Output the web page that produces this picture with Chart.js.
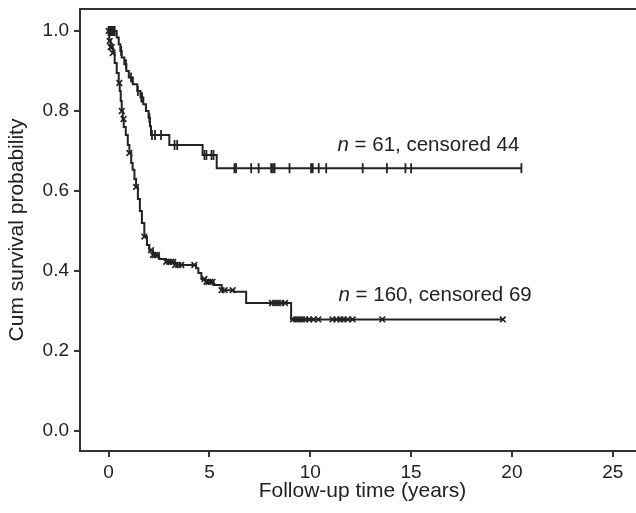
<!DOCTYPE html>
<html>
<head>
<meta charset="utf-8">
<script src="https://cdn.jsdelivr.net/npm/chart.js@4.4.1/dist/chart.umd.min.js"></script>
<style>
  html, body { margin: 0; padding: 0; background: #fff; overflow: hidden; }
  #wrap { width: 660px; height: 513px; }
</style>
</head>
<body>
<div id="wrap"><canvas id="myChart" width="660" height="513"></canvas></div>
<script>
// Kaplan-Meier steps (time in years, cumulative survival)
var upperTimes = [0, 0.40, 0.50, 0.58, 0.65, 0.78, 0.88, 1.00, 1.20, 1.42, 1.58, 1.72, 1.85, 1.98, 2.05, 2.10, 3.01, 4.66, 5.36, 20.47];
var upperSurv  = [1.0, 0.984, 0.967, 0.950, 0.934, 0.917, 0.900, 0.884, 0.867, 0.850, 0.834, 0.817, 0.800, 0.783, 0.762, 0.740, 0.715, 0.690, 0.657, 0.657];
var upperCensored = [0, 0.05, 0.1, 0.15, 0.2, 0.25, 0.3, 0.62, 0.86, 1.11, 1.45, 1.62, 1.66, 2.02, 2.15, 2.3, 2.6, 3.27, 3.4, 4.75, 4.85, 5.1, 5.2,
                     6.24, 6.32, 7.07, 7.44, 8.06, 8.15, 8.23, 8.97, 10.04, 10.12, 10.42, 10.79, 12.6, 13.8, 14.72, 15.0, 20.47];

var lowerTimes = [0, 0.03, 0.1, 0.2, 0.3, 0.4, 0.5, 0.55, 0.6, 0.65, 0.7, 0.75, 0.85, 0.95, 1.03, 1.12, 1.19, 1.28, 1.36, 1.45, 1.55, 1.65, 1.77, 1.9, 2.02,
                  2.2, 2.5, 2.85, 3.3, 4.34, 4.45, 4.6, 4.8, 5.2, 5.6, 6.2, 6.82, 9.05, 19.55];
var lowerSurv  = [1.0, 0.975, 0.96, 0.945, 0.92, 0.895, 0.87, 0.85, 0.825, 0.80, 0.78, 0.76, 0.74, 0.715, 0.695, 0.67, 0.653, 0.63, 0.61, 0.58, 0.55, 0.52, 0.486, 0.465, 0.452,
                  0.44, 0.43, 0.423, 0.415, 0.407, 0.395, 0.38, 0.373, 0.365, 0.352, 0.348, 0.32, 0.279, 0.279];
var lowerCensored = [0, 0.05, 0.1, 0.15, 0.2, 0.53, 0.65, 0.74, 1.03, 1.36, 1.77, 2.1, 2.2, 2.3, 2.4, 2.85, 3.0, 3.1, 3.2, 3.3, 3.45, 3.6, 4.25,
                     4.75, 4.85, 4.95, 5.05, 5.15, 5.6, 5.75, 6.15, 8.1, 8.25, 8.4, 8.55, 8.75, 9.15, 9.3, 9.45, 9.6, 9.75, 9.95, 10.15, 10.4,
                     11.1, 11.3, 11.5, 11.65, 11.85, 12.1, 13.57, 19.55];

var xTicks = [0, 5, 10, 15, 20, 25];
var yTicks = [0.0, 0.2, 0.4, 0.6, 0.8, 1.0];

var labelItalic = ['n', 'n'];
var labelRest = [' = 61, censored 44', ' = 160, censored 69'];
var labelAt = [[11.35, 0.715], [11.4, 0.34]];

var FONT = 'Liberation Sans, Arial, Helvetica, sans-serif';
var INK = '#222';

function toPoints(ts, ss) {
    return ts.map(function (t, i) { return { x: t, y: ss[i] }; });
}
// survival value of the step curve at time t
function survAt(ts, ss, t) {
    var s = ss[0];
    for (var i = 0; i < ts.length; i++) { if (ts[i] <= t) s = ss[i]; }
    return s;
}
function censorPoints(cs, ts, ss) {
    return cs.map(function (t) { return { x: t, y: survAt(ts, ss, t) }; });
}

var framePlugin = {
    id: 'frame',
    afterDraw: function (chart) {
        var c = chart.ctx, a = chart.chartArea;
        c.save();
        c.strokeStyle = '#333';
        c.lineWidth = 2;
        c.strokeRect(a.left, a.top, a.right - a.left, a.bottom - a.top);
        // group annotations
        var xs = chart.scales.x, ys = chart.scales.y;
        c.fillStyle = INK;
        c.textBaseline = 'middle';
        c.textAlign = 'left';
        for (var i = 0; i < labelRest.length; i++) {
            var px = xs.getPixelForValue(labelAt[i][0]);
            var py = ys.getPixelForValue(labelAt[i][1]);
            c.font = 'italic 20.5px ' + FONT;
            c.fillText(labelItalic[i], px, py);
            var w = c.measureText(labelItalic[i]).width;
            c.font = '20.5px ' + FONT;
            c.fillText(labelRest[i], px + w, py);
        }
        c.restore();
    }
};

var ctx = document.getElementById('myChart');

var myChart = new Chart(ctx, {
    type: 'scatter',
    data: {
        datasets: [{
            data: toPoints(upperTimes, upperSurv),
            showLine: true,
            stepped: 'before',
            borderColor: INK,
            borderWidth: 2,
            pointRadius: 0
        }, {
            data: toPoints(lowerTimes, lowerSurv),
            showLine: true,
            stepped: 'before',
            borderColor: INK,
            borderWidth: 2,
            pointRadius: 0
        }, {
            data: censorPoints(upperCensored, upperTimes, upperSurv),
            pointStyle: 'line',
            rotation: 90,
            pointRadius: 5,
            borderColor: INK,
            borderWidth: 1.8
        }, {
            data: censorPoints(lowerCensored, lowerTimes, lowerSurv),
            pointStyle: 'crossRot',
            pointRadius: 4,
            borderColor: INK,
            borderWidth: 1.6
        }]
    },
    options: {
        responsive: false,
        maintainAspectRatio: false,
        animation: false,
        events: [],
        layout: { padding: { left: 0, top: 9, right: 15, bottom: 0 } },
        plugins: {
            legend: { display: false },
            tooltip: { enabled: false }
        },
        scales: {
            x: {
                type: 'linear',
                min: -1.42,
                max: 26.6,
                afterFit: function (s) { s.height = 62; s.paddingLeft = 0; s.paddingRight = 0; },
                afterBuildTicks: function (s) { s.ticks = xTicks.map(function (v) { return { value: v }; }); },
                border: { display: false },
                grid: { drawOnChartArea: false, drawTicks: true, tickLength: 6, color: '#333', lineWidth: 2 },
                ticks: { color: INK, font: { family: FONT, size: 19 }, padding: 4, maxRotation: 0 },
                title: { display: true, text: 'Follow-up time (years)', color: INK, font: { family: FONT, size: 21 }, padding: { top: 0, bottom: 9 } }
            },
            y: {
                type: 'linear',
                min: -0.05,
                max: 1.055,
                afterFit: function (s) { s.width = 80; s.paddingTop = 0; s.paddingBottom = 0; },
                afterBuildTicks: function (s) { s.ticks = yTicks.map(function (v) { return { value: v }; }); },
                border: { display: false },
                grid: { drawOnChartArea: false, drawTicks: true, tickLength: 6, color: '#333', lineWidth: 2 },
                ticks: { color: INK, font: { family: FONT, size: 19 }, padding: 5, callback: function (v) { return v.toFixed(1); } },
                title: { display: true, text: 'Cum survival probability', color: INK, font: { family: FONT, size: 21 }, padding: { top: 5, bottom: 0 } }
            }
        }
    },
    plugins: [framePlugin]
});
</script>
</body>
</html>
